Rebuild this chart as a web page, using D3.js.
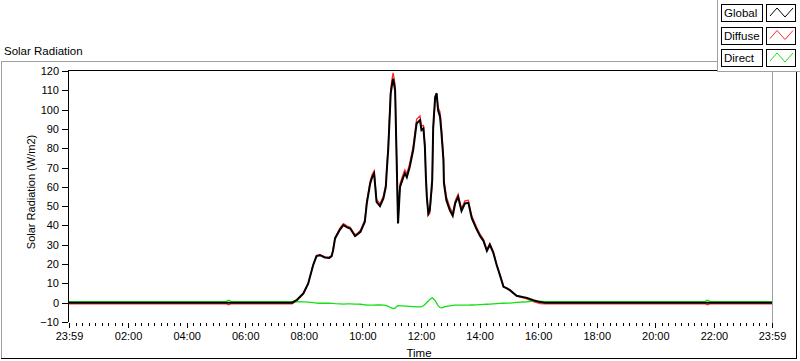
<!DOCTYPE html>
<html>
<head>
<meta charset="utf-8">
<script src="https://cdn.jsdelivr.net/npm/d3@7"></script>
<style>
  body { margin: 0; background: #fff; }
  svg { display: block; font-family: "Liberation Sans", Arial, sans-serif; }
</style>
</head>
<body>
<div id="chart"></div>
<script>
// readings taken off the graph (first time is the previous day 23:59)
var times = ["23:59","05:22","05:24","05:28","05:30","07:36","07:46","07:59","08:09","08:19",
  "08:26","08:33","08:43","08:52","08:57","09:00","09:04","09:14","09:21","09:29",
  "09:35","09:45","09:52","09:56","10:05","10:09","10:16","10:20","10:24","10:29",
  "10:36","10:43","10:48","10:50","10:53","10:58","11:02","11:03","11:07","11:10",
  "11:13","11:17","11:24","11:27","11:31","11:37","11:44","11:51","11:58","12:01",
  "12:05","12:08","12:10","12:12","12:15","12:18","12:23","12:25","12:29","12:32",
  "12:35","12:39","12:42","12:46","12:47","12:52","12:59","13:05","13:10","13:16",
  "13:23","13:30","13:37","13:44","13:54","14:01","14:08","14:15","14:21","14:28",
  "14:35","14:42","14:49","14:55","15:02","15:16","15:37","15:50","16:04","16:14",
  "21:43","21:45","21:49","21:51","23:59"]

var globalRad = [0,0,0,0,0,0,1.5,4.8,10,19.4,
  24.1,24.6,23.4,23.2,24.1,27.2,33.3,37.9,40.2,39,
  38.4,34.5,35.8,36.7,41.9,51.4,61.8,65,66.9,52.2,
  50,54,60,68.7,79.9,108.4,115,116,110,75.5,
  41,60,65.2,67,65,70.4,79,92.8,94.6,89.4,
  90.2,80.7,65.2,54.8,46.2,47.9,63.5,91,106.6,108.4,
  99.7,96.3,87.7,73.8,61.8,53.1,47.9,45,51.4,54.8,
  47.5,51.4,51.7,43.8,38,34.5,32,26.8,30,26,
  19.5,14,8.2,7.5,6.5,3.6,2.5,1.3,0.3,0,
  0,0,0,0,0]

var diffuseRad = [-0.6,-0.6,-1,-1,-0.6,-0.6,1,4.5,9.8,19.4,
  24.4,25,23.7,23.5,24.5,27.6,33.8,38.6,41,39.7,
  39.1,35.2,36.5,37.5,43,52.6,63.1,66.4,68.3,53.5,
  51.2,55.3,61.4,70.3,81.8,111,118,119,112.8,77.5,
  42.5,61.6,66.9,68.8,66.8,72.3,81,95,96.8,91.4,
  91.8,81.6,65.6,54.6,45.3,46.2,61,88.8,105.5,108.6,
  101.2,98.8,90.4,76.2,64,55,49.5,46.4,52.7,56.1,
  48.8,52.7,53,45,39.1,35.5,32.9,27.6,30.7,26.6,
  20,14.4,8.5,7.7,6.7,3.4,2,0.5,-0.5,-0.6,
  -0.6,-1,-1,-0.6,-0.6]

var directRad = [0.6,0.6,1.2,1.2,0.6,0.6,0.5,0.4,0.3,0,
  -0.2,-0.3,-0.3,-0.2,-0.3,-0.4,-0.5,-0.6,-0.7,-0.6,
  -0.6,-0.7,-0.7,-0.8,-1.1,-1.2,-1.3,-1.3,-1.3,-1.2,
  -1.2,-1.3,-1.4,-1.6,-1.9,-2.6,-2.9,-3,-2.8,-2,
  -1.5,-1.6,-1.7,-1.8,-1.8,-1.9,-2,-2.2,-2.2,-2,
  -1.6,-0.9,-0.4,0.2,0.9,1.7,2.5,2.2,1.1,-0.2,
  -1.5,-2.5,-2.7,-2.4,-2.2,-1.9,-1.6,-1.4,-1.3,-1.3,
  -1.3,-1.3,-1.3,-1.2,-1.1,-1,-0.9,-0.8,-0.7,-0.6,
  -0.5,-0.4,-0.3,-0.2,-0.2,0.2,0.5,0.8,0.8,0.6,
  0.6,1.2,1.2,0.6,0.6]

var seriesNames = ["Global", "Diffuse", "Direct"]
var seriesColors = ["#000000", "#ff2a2a", "#11e011"]
var yTicks = [-10,0,10,20,30,40,50,60,70,80,90,100,110,120]
var xTickLabels = ["23:59","02:00","04:00","06:00","08:00","10:00","12:00","14:00","16:00","18:00","20:00","22:00","23:59"]

var W = 800, H = 361
var plot = {left: 69, right: 772, top: 71, bottom: 322}

function toDate(s, i) {
  var p = s.split(":")
  // only the very first reading is on the day before
  return new Date(2020, 0, i == 0 ? 1 : 2, +p[0], +p[1])
}

var rows = times.map(function(t, i){
  return {t: toDate(t, i), g: globalRad[i], d: diffuseRad[i], r: directRad[i]}
})

var svg = d3.select("#chart").append("svg")
  .attr("width", W).attr("height", H)

var x = d3.scaleTime()
  .domain([new Date(2020,0,1,23,59), new Date(2020,0,2,23,59)])
  .range([plot.left, plot.right])

var y = d3.scaleLinear()
  .domain([-10, 120])
  .range([plot.bottom, plot.top])

// panel frame
svg.append("path")
  .attr("d", "M1.5,358 V61.5 H717")
  .attr("fill", "none").attr("stroke", "#a0a0a0").attr("shape-rendering", "crispEdges")
svg.append("path")
  .attr("d", "M796.5,72 V358.5 H1")
  .attr("fill", "none").attr("stroke", "#000").attr("shape-rendering", "crispEdges")

svg.append("text")
  .attr("x", 4).attr("y", 55)
  .style("font-size", "11.5px")
  .text("Solar Radiation")

// plot area border: dark top/left, light right
svg.append("path")
  .attr("d", "M" + (plot.left - 0.5) + "," + plot.bottom + " V" + (plot.top - 0.5) + " H" + (plot.right))
  .attr("fill", "none").attr("stroke", "#000").attr("shape-rendering", "crispEdges")
svg.append("line")
  .attr("x1", plot.right + 0.5).attr("x2", plot.right + 0.5)
  .attr("y1", plot.top - 1).attr("y2", plot.bottom + 1)
  .attr("stroke", "#a0a0a0").attr("shape-rendering", "crispEdges")

// y axis
var yAxis = svg.append("g")
  .attr("transform", "translate(" + (plot.left - 1) + ",0)")
  .call(d3.axisLeft(y).tickValues(yTicks).tickSize(6).tickPadding(3))
yAxis.select(".domain").remove()
yAxis.selectAll("line").attr("shape-rendering", "crispEdges")
yAxis.selectAll("text").style("font-size", "11px").attr("fill", "#000").attr("font-family", "Liberation Sans, Arial")

// x axis: major ticks every two hours plus the end points, 9 minor steps between
var majors = xTickLabels.map(function(s, i){
  var p = s.split(":")
  return new Date(2020, 0, i == 0 ? 1 : 2, +p[0], +p[1])
})
var minors = []
for (var i = 0; i < majors.length - 1; i++) {
  var a = +majors[i], b = +majors[i+1]
  for (var k = 1; k < 9; k++) minors.push(new Date(a + (b - a) * k / 9))
}

var xAxis = svg.append("g")
  .attr("transform", "translate(0," + (plot.bottom + 1) + ")")
  .call(d3.axisBottom(x).tickValues(majors).tickSize(5).tickPadding(4)
    .tickFormat(function(d, i){ return xTickLabels[i] }))
xAxis.select(".domain").remove()
xAxis.selectAll("line").attr("shape-rendering", "crispEdges")
xAxis.selectAll("text").style("font-size", "11px").attr("fill", "#000").attr("font-family", "Liberation Sans, Arial")

svg.append("g")
  .selectAll("line")
  .data(minors)
  .enter()
  .append("line")
  .attr("x1", function(d){ return Math.round(x(d)) + 0.5 })
  .attr("x2", function(d){ return Math.round(x(d)) + 0.5 })
  .attr("y1", plot.bottom + 1).attr("y2", plot.bottom + 4)
  .attr("stroke", "#000")
  .attr("shape-rendering", "crispEdges")

svg.append("text")
  .attr("transform", "translate(35," + 192 + ") rotate(-90)")
  .attr("text-anchor", "middle")
  .style("font-size", "11px")
  .text("Solar Radiation (W/m2)")

svg.append("text")
  .attr("x", 419).attr("y", 357)
  .attr("text-anchor", "middle")
  .style("font-size", "11.5px")
  .text("Time")

// plots
var clip = svg.append("clipPath").attr("id", "clip")
  .append("rect")
  .attr("x", plot.left).attr("y", plot.top)
  .attr("width", plot.right - plot.left).attr("height", plot.bottom - plot.top)

var lineOf = function(key){
  return d3.line()
    .x(function(d){ return x(d.t) })
    .y(function(d){ return y(d[key]) })
}

var g = svg.append("g").attr("clip-path", "url(#clip)")
g.append("path").datum(rows)
  .attr("fill", "none").attr("stroke", seriesColors[1]).attr("stroke-width", 1.3)
  .attr("d", lineOf("d"))
g.append("path").datum(rows)
  .attr("fill", "none").attr("stroke", seriesColors[2]).attr("stroke-width", 1.3)
  .attr("d", lineOf("r"))
g.append("path").datum(rows)
  .attr("fill", "none").attr("stroke", seriesColors[0]).attr("stroke-width", 2)
  .attr("d", lineOf("g"))

// legend
var leg = svg.append("g")
leg.append("rect")
  .attr("x", 717).attr("y", 0).attr("width", 83).attr("height", 71)
  .attr("fill", "#fff")
leg.append("path")
  .attr("d", "M717.5,0 V71.5 H800")
  .attr("fill", "none").attr("stroke", "#a0a0a0").attr("shape-rendering", "crispEdges")

var legTop = [4, 26.5, 49]
seriesNames.forEach(function(name, i){
  var y0 = legTop[i]
  leg.append("rect")
    .attr("x", 721.5).attr("y", y0 + 0.5).attr("width", 41).attr("height", 17)
    .attr("fill", "#fff").attr("stroke", "#000").attr("shape-rendering", "crispEdges")
  leg.append("text")
    .attr("x", 724).attr("y", y0 + 13)
    .style("font-size", "11.5px")
    .text(name)
  leg.append("rect")
    .attr("x", 766.5).attr("y", y0 + 0.5).attr("width", 29).attr("height", 17)
    .attr("fill", "#fff").attr("stroke", "#000").attr("shape-rendering", "crispEdges")
  leg.append("path")
    .attr("d", "M770," + (y0 + 12) + " L777," + (y0 + 4) + " L785," + (y0 + 13) + " L793," + (y0 + 4))
    .attr("fill", "none").attr("stroke", seriesColors[i]).attr("stroke-width", 1)
})
</script>
</body>
</html>
